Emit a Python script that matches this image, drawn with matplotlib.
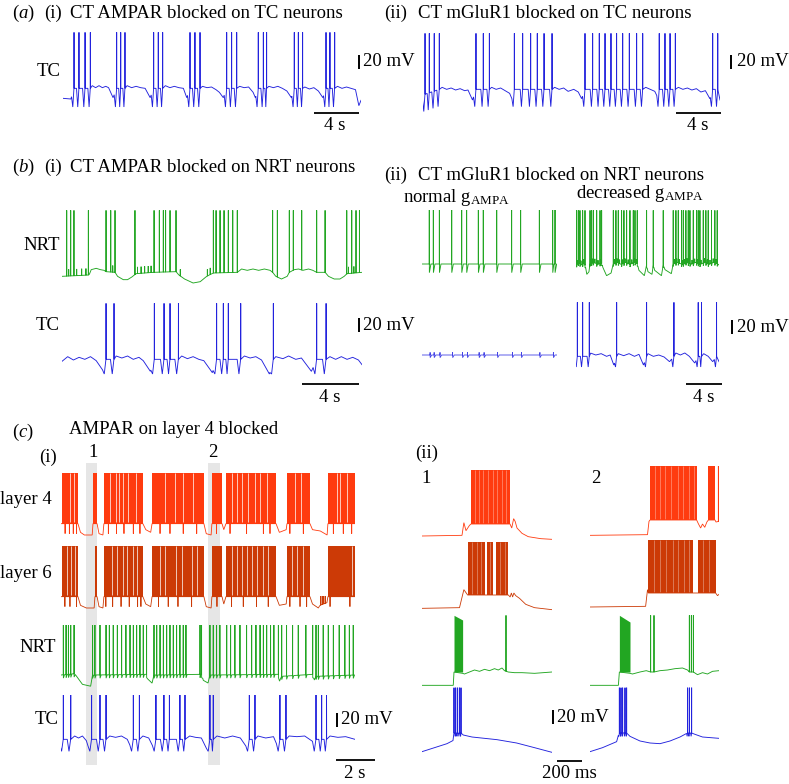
import numpy as np
import matplotlib
matplotlib.use('Agg')
import matplotlib.pyplot as plt

plt.rcParams['font.family'] = ['Liberation Serif', 'DejaVu Serif']
plt.rcParams['mathtext.fontset'] = 'custom'
plt.rcParams['mathtext.rm'] = 'Liberation Serif'
plt.rcParams['mathtext.it'] = 'Liberation Serif:italic'

W, H = 789, 784
FS = 13.5
BLUE = '#2222dd'
GREEN = '#22a622'
L4C = '#ff3b0f'
L6C = '#cc3a06'
BAND = '#e6e6e6'
LW = 0.65

# ---------------- data (time in s, or ms for c(ii); voltage in mV) ----------------
# (a)(i) TC, CT AMPAR blocked on TC
A1_SPK = [0.98, 1.42, 1.96, 2.43, 4.77, 5.13, 5.51, 8.06, 8.47, 8.86, 11.29, 11.73, 12.18,
          14.55, 14.99, 15.44, 17.36, 17.81, 18.10, 20.56, 20.92, 21.30, 23.38, 23.73, 24.15]
A1_BASE = [(0, -77), (0.7, -78), (0.98, -62), (2.43, -62), (2.6, -58), (2.9, -61), (3.2, -58), (3.5, -61),
           (3.8, -59), (4.05, -61), (4.45, -76), (4.77, -62), (5.51, -62), (5.7, -58), (6.1, -61), (6.5, -59),
           (6.9, -61), (7.3, -62), (7.75, -76), (8.06, -62), (8.86, -62), (9.1, -58), (9.5, -61), (9.9, -59),
           (10.3, -61), (10.7, -62), (11.0, -76), (11.29, -62), (12.18, -62), (12.4, -59), (12.8, -61),
           (13.2, -60), (13.6, -64), (13.9, -68), (14.25, -76), (14.55, -62), (15.44, -62), (15.7, -59),
           (16.1, -61), (16.5, -60), (16.9, -68), (17.1, -76), (17.36, -62), (18.10, -62), (18.3, -59),
           (18.7, -61), (19.1, -59), (19.5, -62), (19.9, -66), (20.3, -76), (20.56, -62), (21.30, -62),
           (21.5, -60), (21.9, -63), (22.3, -61), (22.7, -66), (23.1, -76), (23.38, -62), (24.15, -62),
           (24.4, -59), (24.8, -62), (25.2, -60), (25.6, -62), (26.0, -64), (26.3, -88), (26.49, -80)]

# (a)(ii) TC, CT mGluR1 blocked on TC
A2_SPK = [0.18, 0.56, 1.0, 1.45, 4.71, 5.36, 5.9, 8.12, 8.86, 9.57, 10.16, 10.76, 11.47,
          14.4, 15.08, 15.67, 16.18, 16.71, 17.21, 17.75, 18.34, 18.99, 19.53,
          21.0, 21.51, 21.96, 22.43, 25.75, 26.2]
A2_BASE = [(0, -78), (0.05, -70), (1.45, -62), (1.7, -59), (2.1, -62), (2.5, -60), (2.9, -63), (3.3, -61),
           (3.7, -64), (4.0, -63), (4.4, -78), (4.71, -62), (5.9, -62), (6.1, -59), (6.5, -62), (6.9, -60),
           (7.3, -64), (7.7, -68), (7.9, -76), (8.12, -62), (11.47, -62), (11.7, -59), (12.1, -62),
           (12.5, -60), (12.9, -65), (13.4, -62), (13.8, -66), (14.1, -76), (14.4, -62), (19.53, -62),
           (19.8, -59), (20.2, -62), (20.6, -65), (20.8, -72), (21.0, -62), (22.43, -62), (22.7, -59),
           (23.1, -62), (23.5, -60), (23.9, -63), (24.3, -61), (24.7, -66), (25.1, -64), (25.5, -76),
           (25.75, -62), (26.2, -62), (26.4, -78)]

# (b)(i) NRT and TC, CT AMPAR blocked on NRT
B1N_SPK = [0.33, 0.61, 0.84, 1.85, 3.09, 3.42, 3.72, 5.12, 6.46, 6.83, 7.11, 7.27, 7.58, 8.0,
           10.62, 10.81, 11.09, 11.37, 11.67, 11.98, 12.3, 14.78, 15.11, 15.95, 16.23, 16.82,
           17.87, 18.46, 19.98, 20.33, 20.63, 20.87]
B1N_SML = [0.47, 1.03, 1.38, 1.68, 3.56, 5.3, 5.55, 5.8, 6.05, 6.25, 8.3, 10.2, 10.4, 20.1, 20.48]
B1N_BASE = [(0, -62), (1.9, -60), (2.05, -52), (2.4, -50), (2.7, -52), (2.95, -53), (3.09, -55), (3.72, -56),
            (3.9, -62), (4.3, -67), (4.6, -67), (4.9, -63), (5.2, -58), (6.4, -56), (8.0, -55), (8.2, -60),
            (8.6, -66), (9.2, -72), (9.7, -70), (10.15, -62), (10.62, -57), (12.3, -56), (12.6, -51),
            (13.0, -53), (13.4, -51), (13.8, -53), (14.2, -51), (14.6, -53), (14.78, -56), (15.0, -62),
            (15.4, -66), (15.8, -62), (15.95, -56), (16.3, -52), (16.6, -51), (16.9, -53), (17.3, -51),
            (17.6, -53), (17.87, -56), (18.46, -56), (18.7, -62), (19.1, -66), (19.5, -66), (19.8, -62),
            (20.0, -58), (21.05, -56)]
B1T_SPK = [3.09, 3.65, 6.48, 7.16, 7.58, 8.17, 10.85, 11.32, 11.67, 12.54, 14.83, 17.87, 18.53]
B1T_BASE = [(0, -65), (0.4, -58), (0.8, -63), (1.2, -59), (1.6, -62), (2.0, -58), (2.4, -64), (2.85, -78),
            (3.09, -62), (3.65, -62), (3.8, -57), (4.2, -60), (4.6, -57), (5.0, -62), (5.4, -59), (5.7, -64),
            (6.2, -80), (6.48, -62), (8.17, -62), (8.4, -57), (8.8, -61), (9.2, -58), (9.6, -62), (9.95, -64),
            (10.55, -82), (10.85, -62), (12.54, -62), (12.8, -57), (13.2, -60), (13.6, -58), (14.0, -63),
            (14.55, -84), (14.83, -62), (15.0, -58), (15.5, -61), (15.9, -57), (16.4, -62), (16.8, -60),
            (17.5, -80), (17.87, -62), (18.53, -62), (18.8, -58), (19.2, -62), (19.6, -58), (20.0, -62),
            (20.4, -59), (20.8, -63), (21.05, -70)]

# (b)(ii) CT mGluR1 blocked on NRT: normal gAMPA
B2N_SPK = [0.81, 1.26, 1.93, 3.3, 4.41, 4.96, 6.26, 6.81, 8.3, 9.96, 10.96, 13.04, 14.52, 14.78]
B2N_BASE = [(0, -60), (15.0, -60)]
B2NT_SML = [0.9, 1.35, 2.0, 3.4, 4.5, 5.05, 6.35, 6.9, 8.4, 10.05, 11.05, 13.1, 14.6]
B2NT_BASE = [(0, -60), (15.0, -60)]
# decreased gAMPA
B2D_SPK = [0.07, 0.26, 0.44, 0.74, 1.0, 1.56, 1.74, 1.93, 2.3, 2.67, 2.85, 4.15, 4.44, 4.7, 5.07, 5.33,
           5.63, 6.0, 6.37, 6.56, 6.81, 7.85, 8.59, 9.7, 10.81, 11.11, 11.37, 11.74, 11.93, 12.22, 12.48,
           12.67, 13.04, 13.41, 13.59, 13.78, 14.15, 14.44, 14.7, 15.07, 15.44, 15.7]
B2D_SML = [0.15, 0.35, 0.55, 0.85, 1.65, 1.85, 2.1, 2.45, 2.75, 4.3, 4.55, 4.85, 5.2, 5.45, 5.8, 6.2,
           6.45, 6.7, 10.95, 11.2, 11.5, 11.85, 12.1, 12.35, 12.6, 12.9, 13.2, 13.5, 13.9, 14.3, 14.6,
           14.9, 15.25, 15.55]
B2D_BASE = [(0, -60), (0.3, -57), (0.6, -60), (0.9, -57), (1.05, -62), (1.2, -74), (1.45, -70), (1.56, -58),
            (2.0, -56), (2.4, -59), (2.85, -57), (3.0, -64), (3.4, -76), (3.9, -72), (4.15, -58), (4.6, -56),
            (5.0, -59), (5.5, -56), (6.0, -59), (6.5, -56), (6.81, -58), (7.0, -68), (7.6, -76), (7.85, -60),
            (8.0, -70), (8.45, -74), (8.59, -60), (8.75, -68), (9.5, -76), (9.7, -60), (9.9, -67),
            (10.6, -73), (10.81, -58), (11.3, -56), (11.8, -59), (12.3, -56), (12.8, -59), (13.3, -56),
            (13.8, -59), (14.3, -56), (14.8, -59), (15.3, -56), (15.7, -58), (15.9, -60)]
B2DT_SPK = [0.15, 0.74, 1.48, 4.52, 7.85, 10.89, 13.59, 13.96, 15.63]
B2DT_BASE = [(0, -72), (0.15, -62), (1.48, -62), (1.6, -57), (2.2, -60), (2.8, -58), (3.4, -62), (3.8, -60),
             (4.2, -75), (4.52, -62), (4.7, -58), (5.3, -61), (5.9, -58), (6.5, -62), (7.0, -59), (7.5, -75),
             (7.85, -62), (8.0, -58), (8.6, -62), (9.2, -60), (9.8, -63), (10.4, -70), (10.89, -62),
             (11.1, -57), (11.6, -60), (12.1, -57), (12.6, -62), (13.2, -72), (13.59, -62), (13.96, -62),
             (14.2, -58), (14.7, -62), (15.2, -70), (15.63, -62), (15.9, -70)]

# (c)(i) AMPAR on layer 4 blocked
C1_BANDS = [(1.28, 1.85), (7.54, 8.15)]
L4_BLK = [(0.05, 0.87), (1.64, 1.85), (2.2, 4.2), (4.67, 7.33), (7.74, 8.26), (8.46, 11.03),
          (11.59, 12.77), (13.69, 15.08)]
L4_GAP = [0.46, 0.67, 2.51, 2.8, 2.99, 3.2, 3.45, 3.85, 5.33, 5.85, 6.27, 6.78, 8.75, 9.01, 9.27,
          9.61, 9.95, 10.2, 10.55, 12.0, 12.29, 14.14, 14.31, 14.65]
L4_DIP = [0.21, 0.43, 0.63, 0.8, 2.43, 2.85, 3.23, 3.71, 4.05, 5.08, 5.59, 6.27, 6.96, 7.98, 8.67,
          9.52, 10.38, 10.72, 11.74, 12.43, 13.97, 14.48, 14.91]
L4_BASE = [(0, -61), (0.87, -61), (1.0, -74), (1.2, -78), (1.6, -78), (1.64, -61), (1.85, -61), (1.95, -76),
           (2.15, -78), (2.2, -61), (4.2, -61), (4.35, -70), (4.6, -74), (4.67, -61), (7.33, -61), (7.45, -76),
           (7.7, -78), (7.74, -61), (8.26, -61), (8.35, -70), (8.46, -61), (11.03, -61), (11.2, -74),
           (11.55, -70), (11.59, -61), (12.77, -61), (12.9, -70), (13.3, -72), (13.65, -78), (13.69, -61),
           (15.08, -61)]
L6_BLK = [(0.05, 0.87), (1.74, 1.85), (2.2, 4.2), (4.67, 7.33), (7.74, 8.26), (8.46, 11.03),
          (11.59, 12.77), (13.69, 15.08)]
L6_GAP = [0.29, 0.51, 0.72, 2.6, 2.85, 3.16, 3.4, 3.67, 3.91, 5.08, 5.33, 5.9, 6.19, 6.7, 6.96, 8.75,
          9.01, 9.27, 9.52, 9.78, 10.03, 10.38, 10.63, 11.83, 12.09, 12.39, 14.91]
L6_DIP = [0.2, 0.46, 0.8, 2.3, 2.65, 3.08, 3.5, 3.93, 4.1, 5.0, 5.5, 6.0, 6.7, 8.0, 8.75, 9.35, 10.03,
          10.63, 11.74, 12.26, 12.6, 13.8, 14.82]
L6_SML = [13.32, 13.4, 13.48, 13.56]
L6_BASE = [(0, -61), (0.87, -61), (1.0, -74), (1.3, -78), (1.7, -78), (1.74, -61), (1.85, -61), (1.95, -76),
           (2.15, -78), (2.2, -61), (4.2, -61), (4.35, -72), (4.6, -76), (4.67, -61), (7.33, -61), (7.45, -76),
           (7.7, -78), (7.74, -61), (8.26, -61), (8.35, -72), (8.46, -61), (11.03, -61), (11.2, -74),
           (11.55, -72), (11.59, -61), (12.77, -61), (12.9, -72), (13.2, -78), (13.28, -74), (13.64, -70),
           (13.69, -61), (15.08, -61)]
C1N_SPK = [0.12, 0.26, 0.38, 0.5, 0.67, 1.62, 1.74, 2.0, 2.31, 2.48, 2.68, 2.89, 3.11, 3.33, 3.54, 3.71,
           3.88, 4.05, 4.22, 4.39, 4.77, 4.91, 5.08, 5.25, 5.42, 5.59, 5.76, 5.93, 6.1, 6.27, 6.41, 7.13,
           7.21, 7.64, 7.81, 7.98, 8.15, 8.5, 8.7, 8.92, 9.18, 9.52, 9.78, 10.0, 10.21, 10.38, 10.55,
           10.75, 10.92, 11.15, 11.32, 11.57, 11.88, 12.17, 12.56, 12.91, 13.08, 13.2, 13.45, 13.71,
           13.97, 14.27, 14.56, 14.79, 14.99]
C1N_BASE = [(0, -60), (0.7, -58), (0.85, -64), (1.1, -74), (1.55, -77), (1.6, -60), (4.4, -59), (4.45, -66),
            (4.7, -73), (4.77, -60), (7.21, -59), (7.3, -68), (7.6, -73), (7.64, -60), (11.15, -59),
            (11.2, -70), (11.3, -62), (12.91, -59), (13.0, -68), (13.06, -62), (15.08, -60)]
C1T_SPK = [0.12, 0.5, 1.57, 2.0, 2.31, 3.71, 4.02, 4.87, 5.28, 5.56, 6.1, 6.36, 7.64, 7.81, 9.66, 9.95,
           11.23, 11.54, 13.08, 13.37, 13.62]
C1T_BASE = [(0, -70), (0.12, -62), (0.5, -62), (0.7, -57), (0.9, -60), (1.1, -57), (1.3, -64), (1.45, -78),
            (1.57, -62), (2.31, -62), (2.5, -57), (2.8, -59), (3.1, -57), (3.4, -62), (3.6, -75), (3.71, -62),
            (4.02, -62), (4.2, -57), (4.5, -60), (4.75, -75), (4.87, -62), (6.36, -62), (6.6, -57), (6.9, -59),
            (7.2, -60), (7.5, -78), (7.64, -62), (7.81, -62), (8.0, -57), (8.4, -60), (8.8, -57), (9.2, -60),
            (9.55, -75), (9.66, -62), (9.95, -62), (10.1, -57), (10.5, -60), (10.9, -58), (11.1, -72),
            (11.23, -62), (11.54, -62), (11.7, -57), (12.1, -58), (12.5, -57), (12.9, -65), (13.0, -75),
            (13.08, -62), (13.62, -62), (13.8, -57), (14.2, -59), (14.6, -58), (15.08, -62)]

# (c)(ii) zoom on windows 1 and 2 (time in ms)
Z1_L4_BASE = [(0, -78), (320, -77), (335, -58), (352, -70), (380, -62), (392, -60), (704, -60), (718, -66),
              (733, -52), (745, -56), (760, -66), (800, -74), (850, -79), (950, -82), (1040, -83)]
Z1_L4_BLK = [(392, 704)]
Z1_L4_GAP = [425, 455, 490, 530, 565, 600, 640, 675]
Z2_L4_BASE = [(0, -83), (460, -82), (472, -62), (480, -60), (853, -60), (868, -66), (885, -72), (900, -66),
              (918, -71), (935, -63), (947, -60), (1000, -60), (1008, -63), (1032, -62)]
Z2_L4_BLK = [(480, 853), (947, 1000)]
Z2_L4_GAP = [520, 560, 600, 650, 700, 740, 790, 830]
Z2_L4_SPK = [1027]
Z1_L6_BASE = [(0, -80), (300, -79), (335, -52), (365, -60), (691, -60), (705, -63), (715, -57), (725, -63),
              (735, -57), (750, -61), (780, -65), (830, -74), (900, -79), (1040, -82)]
Z1_L6_BLK = [(365, 504), (523, 571), (592, 691)]
Z1_L6_GAP = [400, 440, 475, 545, 620, 660]
Z2_L6_BASE = [(0, -81), (445, -80), (460, -55), (467, -60), (1005, -60), (1020, -64), (1032, -62)]
Z2_L6_BLK = [(467, 827), (862, 1005)]
Z2_L6_GAP = [510, 560, 610, 660, 700, 750, 790, 900, 950]
Z1_N_BASE = [(0, -80), (250, -80), (256, -60), (325, -62), (340, -63), (380, -60), (420, -57), (460, -59),
             (500, -56), (540, -58), (580, -55), (610, -57), (640, -54), (660, -58), (690, -60), (740, -61),
             (800, -61), (900, -62), (1040, -60)]
Z1_N_BURST = [(256, 325, 25, 18)]
Z1_N_SPK = [672]
Z2_N_BASE = [(0, -80), (227, -80), (235, -60), (320, -62), (340, -63), (400, -60), (450, -58), (485, -60),
             (512, -60), (560, -58), (620, -57), (680, -55), (740, -54), (780, -57), (795, -60), (827, -60),
             (860, -64), (900, -61), (940, -63), (980, -59), (1032, -58)]
Z2_N_BURST = [(235, 320, 25, 15)]
Z2_N_SPK = [485, 512, 795, 811, 827]
Z1_T_BASE = [(0, -88), (100, -82), (200, -76), (251, -71), (256, -60), (312, -60), (330, -63), (400, -66),
             (500, -68), (600, -70), (757, -75), (900, -82), (1040, -89)]
Z1_T_SPK = [256, 269, 283, 299, 312]
Z2_T_BASE = [(0, -88), (100, -82), (213, -73), (232, -60), (293, -60), (320, -65), (400, -72), (480, -75),
             (560, -76), (640, -72), (720, -66), (779, -60), (813, -60), (840, -62), (900, -66), (1032, -68)]
Z2_T_SPK = [235, 248, 261, 280, 293, 781, 795, 813]

# ---------------- drawing helpers ----------------
fig = plt.figure(figsize=(W / 100, H / 100), dpi=100)
K = 1.5  # mV per pixel (20 mV ~ 13 px)


def trace_ax(x0, x1, y_ref, dur, up=120, down=60):
    rect = [x0 / W, (H - (y_ref + down)) / H, (x1 - x0) / W, (up + down) / H]
    ax = fig.add_axes(rect)
    ax.set_xlim(0, dur)
    ax.set_ylim(-60 - down * K, -60 + up * K)
    ax.axis('off')
    return ax


def build(base, spikes=(), peak=0.0, pre=0.0, post=0.0, hw=0.1, small=(), small_h=10.0, small_post=0.0):
    bt = np.array([p[0] for p in base], float)
    bv = np.array([p[1] for p in base], float)

    def f(t):
        return float(np.interp(t, bt, bv))

    ev = sorted([(s, True) for s in spikes] + [(s, False) for s in small])
    times = [e[0] for e in ev]
    pts, wins = [], []
    for i, (s, big) in enumerate(ev):
        l, r = s - hw, s + 0.6 * hw
        if i > 0:
            l = max(l, (times[i - 1] + s) / 2)
        if i < len(ev) - 1:
            r = min(r, (s + times[i + 1]) / 2)
        b = f(s)
        eps = hw * 0.03
        seg = [(l, f(l))]
        if big and pre:
            seg.append(((l + s) / 2, b - pre))
        top = peak if big else b + small_h
        d = post if big else small_post
        seg += [(s - eps, b), (s, top), (s + eps, b - d), (r, f(r))]
        pts += seg
        wins.append((l, r))
    for t, v in zip(bt, bv):
        if not any(l <= t <= r for l, r in wins):
            pts.append((t, v))
    pts.sort(key=lambda p: p[0])
    return [p[0] for p in pts], [p[1] for p in pts]


def draw(ax, color, base, lw=LW, **kw):
    x, y = build(base, **kw)
    ax.plot(x, y, color=color, lw=lw, solid_joinstyle='miter', zorder=3)


def blocks(ax, blks, top, color, gaps=(), gap_alpha=1.0, lo=-61):
    for a, b in blks:
        ax.fill_between([a, b], [lo, lo], [top, top], color=color, lw=0, zorder=2)
    if len(gaps):
        ax.vlines(gaps, lo + 2, top, color='white', lw=0.5, alpha=gap_alpha, zorder=2.5)


def px2data(ax, xp, yp):
    return ax.transData.inverted().transform((xp, H - yp))


def hbar(ax, x_px, y_px, length, anchor='right'):
    xd, yd = px2data(ax, x_px, y_px)
    xs = [xd - length, xd] if anchor == 'right' else [xd, xd + length]
    ax.plot(xs, [yd, yd], color='black', lw=1.3, clip_on=False, solid_capstyle='butt')


def vbar(ax, x_px, yc_px, length=20.0):
    xd, yd = px2data(ax, x_px, yc_px)
    ax.plot([xd, xd], [yd - length / 2, yd + length / 2], color='black', lw=1.4, clip_on=False,
            solid_capstyle='butt')


def T(x, y, s, ha='left'):
    fig.text(x / W, 1 - y / H, s, ha=ha, va='center', fontsize=FS, color='black')


# ---------------- (a) ----------------
ax = trace_ax(63, 361, 87, 26.49)
draw(ax, BLUE, A1_BASE, spikes=A1_SPK, peak=22, pre=28, hw=0.22)
vbar(ax, 359, 62)
hbar(ax, 359, 113, 4)

ax = trace_ax(423, 720, 88, 26.4)
draw(ax, BLUE, A2_BASE, spikes=A2_SPK, peak=22, pre=26, hw=0.22)
vbar(ax, 731, 62)
hbar(ax, 721, 113, 4)

# ---------------- (b) ----------------
ax = trace_ax(62, 362, 275, 21.05)
draw(ax, GREEN, B1N_BASE, spikes=B1N_SPK, peak=37, hw=0.12, small=B1N_SML, small_h=10)
ax = trace_ax(62, 362, 358, 21.05)
draw(ax, BLUE, B1T_BASE, spikes=B1T_SPK, peak=22, pre=22, hw=0.25)
vbar(ax, 359, 325)
hbar(ax, 359, 384, 4)

ax = trace_ax(422, 557, 264, 15.0)
draw(ax, GREEN, B2N_BASE, spikes=B2N_SPK, peak=21, post=13, hw=0.3)
ax = trace_ax(422, 557, 355, 15.0)
draw(ax, '#4444e6', B2NT_BASE, small=B2NT_SML, small_h=4, small_post=4, hw=0.3, lw=0.6)

ax = trace_ax(576, 719, 265, 15.9)
draw(ax, GREEN, B2D_BASE, spikes=B2D_SPK, peak=22, post=4, hw=0.12, small=B2D_SML, small_h=6)
ax = trace_ax(576, 719, 355, 15.9)
draw(ax, BLUE, B2DT_BASE, spikes=B2DT_SPK, peak=19, pre=16, hw=0.25)
vbar(ax, 732, 327)
hbar(ax, 722, 384, 4)

# ---------------- (c)(i) ----------------
band_ax = fig.add_axes([61 / W, (H - 765) / H, (355 - 61) / W, (765 - 463) / H])
band_ax.set_xlim(0, 15.08)
band_ax.set_ylim(0, 1)
band_ax.axis('off')
for a, b in C1_BANDS:
    band_ax.axvspan(a, b, color=BAND, lw=0, zorder=0)

ax = trace_ax(61, 355, 523, 15.08)
blocks(ax, L4_BLK, 15, L4C, L4_GAP)
draw(ax, L4C, L4_BASE, small=L4_DIP, small_h=-15, hw=0.06, lw=0.6)
ax = trace_ax(61, 355, 596, 15.08)
blocks(ax, L6_BLK, 15, L6C, L6_GAP)
draw(ax, L6C, L6_BASE, spikes=L6_SML, peak=-60, small=L6_DIP, small_h=-15, hw=0.06, lw=0.6)
ax = trace_ax(61, 355, 675, 15.08)
draw(ax, GREEN, C1N_BASE, spikes=C1N_SPK, peak=15, post=5, hw=0.1)
ax = trace_ax(61, 355, 738, 15.08)
draw(ax, BLUE, C1T_BASE, spikes=C1T_SPK, peak=4.5, pre=18, hw=0.18)
vbar(ax, 337, 720)
hbar(ax, 375, 760, 2)


# ---------------- (c)(ii) ----------------
def zoom_col(x0, x1, dur, refs, l4, l6, nrt, tc):
    a4 = trace_ax(x0, x1, refs[0], dur)
    blocks(a4, l4['blk'], 21, L4C, l4['gap'], gap_alpha=0.45, lo=-60)
    draw(a4, L4C, l4['base'], spikes=l4.get('spk', []), peak=21, hw=6, lw=0.6)
    a6 = trace_ax(x0, x1, refs[1], dur)
    blocks(a6, l6['blk'], 20, L6C, l6['gap'], gap_alpha=0.45, lo=-60)
    draw(a6, L6C, l6['base'], hw=6, lw=0.6)
    an = trace_ax(x0, x1, refs[2], dur)
    for a, b, t1, t2 in nrt['burst']:
        an.fill_between([a, b], [-60, -60], [t1, t2], color=GREEN, lw=0, zorder=2)
    draw(an, GREEN, nrt['base'], spikes=nrt['spk'], peak=25, hw=6)
    at = trace_ax(x0, x1, refs[3], dur)
    draw(at, BLUE, tc['base'], spikes=tc['spk'], peak=8, pre=5, hw=8)
    return at


at1 = zoom_col(422, 552, 1040, (524, 595, 672, 733),
               dict(blk=Z1_L4_BLK, gap=Z1_L4_GAP, base=Z1_L4_BASE),
               dict(blk=Z1_L6_BLK, gap=Z1_L6_GAP, base=Z1_L6_BASE),
               dict(burst=Z1_N_BURST, base=Z1_N_BASE, spk=Z1_N_SPK),
               dict(base=Z1_T_BASE, spk=Z1_T_SPK))
zoom_col(590, 719, 1032, (520, 593, 672, 733),
         dict(blk=Z2_L4_BLK, gap=Z2_L4_GAP, base=Z2_L4_BASE, spk=Z2_L4_SPK),
         dict(blk=Z2_L6_BLK, gap=Z2_L6_GAP, base=Z2_L6_BASE),
         dict(burst=Z2_N_BURST, base=Z2_N_BASE, spk=Z2_N_SPK),
         dict(base=Z2_T_BASE, spk=Z2_T_SPK))
vbar(at1, 553, 717)
hbar(at1, 557, 761, 200, anchor='left')

# ---------------- text ----------------
T(12, 13, r'($\it{a}$)')
T(44, 13, '(i)')
T(70, 13, 'CT AMPAR blocked on TC neurons')
T(384, 13, '(ii)')
T(418, 13, 'CT mGluR1 blocked on TC neurons')
T(61, 71, 'TC', 'right')
T(363, 62, '20 mV')
T(737, 62, '20 mV')
T(335, 126, '4 s', 'center')
T(698, 126, '4 s', 'center')
T(12, 167, r'($\it{b}$)')
T(44, 167, '(i)')
T(70, 167, 'CT AMPAR blocked on NRT neurons')
T(384, 175, '(ii)')
T(418, 175, 'CT mGluR1 blocked on NRT neurons')
T(403, 197, r'normal g$_{\rm AMPA}$')
T(576, 194, r'decreased g$_{\rm AMPA}$')
T(60, 245, 'NRT', 'right')
T(60, 325, 'TC', 'right')
T(363, 325, '20 mV')
T(737, 327, '20 mV')
T(330, 397, '4 s', 'center')
T(704, 397, '4 s', 'center')
T(12, 432, r'($\it{c}$)')
T(69, 429, 'AMPAR on layer 4 blocked')
T(39, 457, '(i)')
T(93, 453, '1', 'center')
T(213, 453, '2', 'center')
T(415, 453, '(ii)')
T(421, 478, '1')
T(591, 478, '2')
T(52, 500, 'layer 4', 'right')
T(52, 573, 'layer 6', 'right')
T(56, 648, 'NRT', 'right')
T(59, 720, 'TC', 'right')
T(341, 720, '20 mV')
T(355, 773, '2 s', 'center')
T(557, 717, '20 mV')
T(569, 773, '200 ms', 'center')

fig.savefig('out.png', dpi=100)
